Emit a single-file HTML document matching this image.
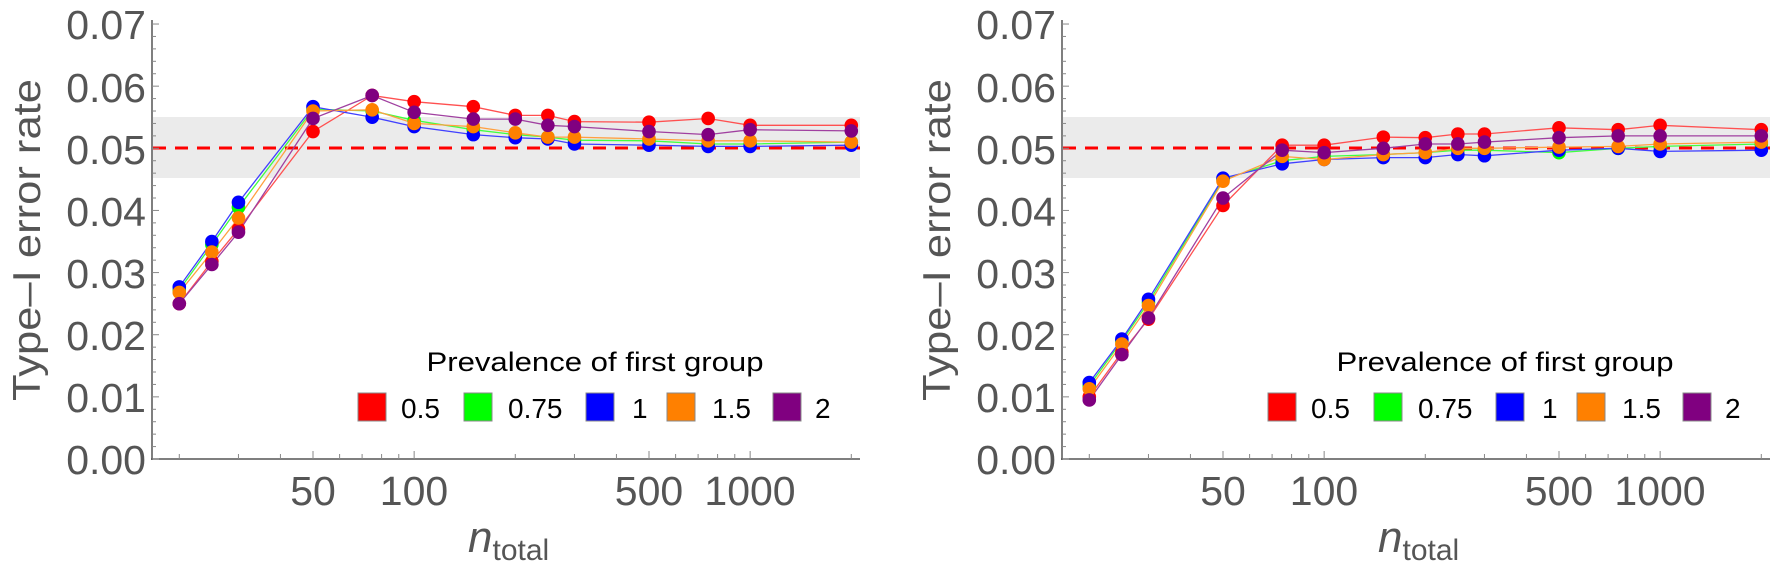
<!DOCTYPE html>
<html><head><meta charset="utf-8"><style>
html,body{margin:0;padding:0;background:#fff;}
svg{display:block;font-family:"Liberation Sans",sans-serif;}
</style></head><body>
<svg id="s" width="1772" height="576" viewBox="0 0 1772 576" xmlns="http://www.w3.org/2000/svg">
<g id="p0">
<rect x="153" y="117" width="707" height="61" fill="#ebebeb"/>
<line x1="153" y1="148" x2="860" y2="148" stroke="#ff0000" stroke-width="3" stroke-dasharray="13,9"/>
<g fill="#555" font-size="41" text-anchor="end">
<text x="146" y="474">0.00</text><text x="146" y="412">0.01</text><text x="146" y="350">0.02</text><text x="146" y="288">0.03</text><text x="146" y="226">0.04</text><text x="146" y="164">0.05</text><text x="146" y="102">0.06</text><text x="146" y="39">0.07</text>
</g>
<g fill="#555" font-size="41" text-anchor="middle">
<text x="313" y="505">50</text><text x="414" y="505">100</text><text x="649" y="505">500</text><text x="750" y="505">1000</text>
</g>
<text transform="translate(40,240) rotate(-90)" text-anchor="middle" font-size="39" fill="#555" textLength="322" lengthAdjust="spacingAndGlyphs">Type–I error rate</text>
<text x="468" y="552" fill="#555" font-size="44" font-style="italic">n<tspan font-style="normal" font-size="30" dy="8">total</tspan></text>
<text x="595" y="371" text-anchor="middle" font-size="27" fill="#000" textLength="337" lengthAdjust="spacingAndGlyphs">Prevalence of first group</text>
<g stroke="#888" stroke-width="1">
<rect x="358" y="393" width="28" height="28" fill="#ff0000"/>
<rect x="464" y="393" width="28" height="28" fill="#00ff00"/>
<rect x="586" y="393" width="28" height="28" fill="#0000ff"/>
<rect x="667" y="393" width="28" height="28" fill="#ff8000"/>
<rect x="773" y="393" width="28" height="28" fill="#800080"/>
</g>
<g font-size="28" fill="#000">
<text x="401" y="418">0.5</text><text x="508" y="418">0.75</text><text x="632" y="418">1</text><text x="712" y="418">1.5</text><text x="815" y="418">2</text>
</g>
<g class="plotarea"></g>
<line x1="152" y1="20" x2="152" y2="460" stroke="#555" stroke-width="1.5"/>
<line x1="151" y1="459" x2="860" y2="459" stroke="#555" stroke-width="1.5"/>
<g class="ticks" stroke="#888" stroke-width="1"></g>
</g>
<g id="p1" transform="translate(910,0)"></g>
</svg>
<script>
var NS="http://www.w3.org/2000/svg";
var ns=[20,25,30,50,75,100,150,200,250,300,500,750,1000,2000];
function X(n){return 313+336*Math.log10(n/50);}
function Y(v){return 459-v*6214;}
var cols=["#ff0000","#00ff00","#0000ff","#ff8000","#800080"];
var lcols=["#ff5050","#40ff40","#4040ff","#ffa040","#a040a0"];
var L=[
[.0250,.0318,.0370,.0527,.0585,.0575,.0567,.0553,.0553,.0543,.0542,.0548,.0537,.0537],
[.0272,.0345,.0405,.0563,.0560,.0545,.0530,.0522,.0518,.0513,.0512,.0507,.0507,.0510],
[.0277,.0350,.0413,.0567,.0550,.0535,.0522,.0517,.0515,.0507,.0505,.0503,.0503,.0505],
[.0268,.0333,.0388,.0560,.0562,.0540,.0535,.0525,.0518,.0518,.0515,.0512,.0512,.0510],
[.0250,.0313,.0365,.0548,.0585,.0558,.0547,.0547,.0537,.0535,.0527,.0522,.0530,.0528]];
var R=[
[.0100,.0172,.0225,.0408,.0505,.0505,.0518,.0517,.0523,.0523,.0533,.0530,.0537,.0530],
[.0118,.0190,.0252,.0450,.0480,.0487,.0490,.0493,.0497,.0497,.0493,.0500,.0503,.0507],
[.0123,.0193,.0257,.0452,.0475,.0482,.0485,.0485,.0490,.0488,.0497,.0500,.0495,.0497],
[.0113,.0185,.0247,.0447,.0487,.0482,.0490,.0493,.0500,.0500,.0502,.0503,.0507,.0510],
[.0095,.0168,.0227,.0420,.0497,.0493,.0500,.0507,.0507,.0510,.0517,.0520,.0520,.0520]];
function el(t,a,p){var e=document.createElementNS(NS,t);for(var k in a)e.setAttribute(k,a[k]);p.appendChild(e);return e;}
var p0=document.getElementById("p0"),p1=document.getElementById("p1");
p1.innerHTML=p0.innerHTML;
function draw(g,D){
  var pa=g.querySelector(".plotarea");
  for(var s=0;s<5;s++){
    var pts=ns.map(function(n,i){return X(n).toFixed(1)+","+Y(D[s][i]).toFixed(1);}).join(" ");
    el("polyline",{points:pts,fill:"none",stroke:lcols[s],"stroke-width":1.3},pa);
  }
  for(var s=0;s<5;s++){
    ns.forEach(function(n,i){el("circle",{cx:X(n),cy:Y(D[s][i]),r:6.8,fill:cols[s]},pa);});
  }
  var tk=g.querySelector(".ticks");
  [20,30,40,50,60,70,80,90,100,200,300,400,500,600,700,800,900,1000,2000].forEach(function(n){
    var maj=(n==50||n==100||n==500||n==1000);
    el("line",{x1:X(n),y1:459,x2:X(n),y2:459-(maj?8:5)},tk);
  });
  for(var v=0;v<=0.07001;v+=0.002){
    var maj=Math.abs(v*100-Math.round(v*100))<1e-6;
    el("line",{x1:152,y1:Y(v),x2:152+(maj?7:4),y2:Y(v)},tk);
  }
}
draw(p0,L);draw(p1,R);
</script>
</body></html>
